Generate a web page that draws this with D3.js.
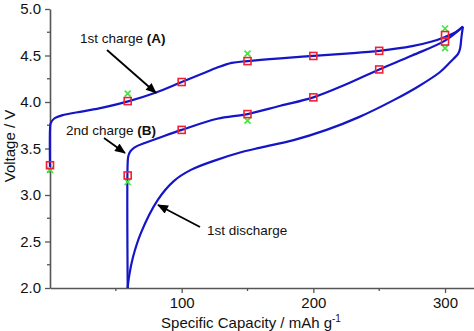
<!DOCTYPE html>
<html lang="en">
    <head>
        <meta charset="utf-8">
        <title>D3: charge / discharge curves</title>
        <script type="text/javascript" src="https://cdn.jsdelivr.net/npm/d3@7"></script>
        <style type="text/css">
        body { margin: 0; background: #fff; }
        text { font-family: "Liberation Sans", Arial, sans-serif; }
        </style>
    </head>
    <body>
        <script type="text/javascript">

            //Width and height
            var w = 474;
            var h = 331;

            //Curves, [capacity, voltage]
            var charge1 = [[0, 3.30], [0, 3.70], [0.5, 3.77], [3, 3.82], [10, 3.86], [25, 3.90], [40, 3.94],
                [60, 4.01], [80, 4.10], [100, 4.215], [115, 4.30], [127, 4.37], [138, 4.42], [150, 4.44],
                [175, 4.47], [200, 4.495], [225, 4.52], [250, 4.55], [275, 4.60], [290, 4.65], [300, 4.70],
                [308, 4.75], [313.6, 4.81]];
            var discharge1 = [[313.6, 4.81], [312.5, 4.70], [311.5, 4.58], [310, 4.52], [304, 4.43], [296, 4.32],
                [280, 4.17], [261, 4.02], [235, 3.84], [210, 3.70], [185, 3.59], [160, 3.51], [145, 3.46],
                [125, 3.37], [107, 3.27], [94, 3.15], [82, 2.95], [69, 2.59], [63, 2.33], [60, 2.12], [59, 2.0]];
            var charge2 = [[59, 2.0], [59, 3.35], [59.5, 3.42], [61, 3.47], [64, 3.51], [72, 3.56], [82, 3.61],
                [100, 3.70], [127, 3.82], [150, 3.87], [175, 3.96], [200, 4.05], [225, 4.19], [250, 4.35],
                [275, 4.50], [300, 4.66], [313.6, 4.81]];

            //Markers
            var squares = [[0, 3.32], [59, 3.21], [59, 4.01], [100, 4.215], [150, 4.44], [200, 4.495], [250, 4.55],
                [300, 4.72], [100, 3.70], [150, 3.87], [200, 4.05], [250, 4.35], [300, 4.65]];
            var crosses = [[0, 3.27], [59, 4.09], [59, 3.14], [150, 4.52], [150, 3.80], [300, 4.79], [300, 4.58]];

            //Ticks
            var xTicks = [100, 200, 300];
            var xMinor = [50, 150, 250];
            var yTicks = [2.0, 2.5, 3.0, 3.5, 4.0, 4.5, 5.0];
            var yMinor = [2.25, 2.75, 3.25, 3.75, 4.25, 4.75];

            var xScale = d3.scaleLinear()
                           .domain([0, 322])
                           .range([50, 474]);

            var yScale = d3.scaleLinear()
                           .domain([2, 5])
                           .range([288, 9]);

            var svg = d3.select("body")
                        .append("svg")
                        .attr("width", w)
                        .attr("height", h);

            var axisColor = "#555";

            //x axis
            var xAxis = svg.append("g")
                .attr("transform", "translate(0,288)")
                .call(d3.axisBottom(xScale).tickValues(xTicks).tickSize(5).tickSizeOuter(0)
                        .tickFormat(d3.format("d")).tickPadding(4));
            xAxis.append("g").selectAll("line")
                .data(xMinor)
                .enter()
                .append("line")
                .attr("x1", function(d) { return xScale(d); })
                .attr("x2", function(d) { return xScale(d); })
                .attr("y1", 0)
                .attr("y2", 3);

            //y axis
            var yAxis = svg.append("g")
                .attr("transform", "translate(50,0)")
                .call(d3.axisLeft(yScale).tickValues(yTicks).tickSize(5).tickSizeOuter(0)
                        .tickFormat(d3.format(".1f")).tickPadding(4));
            yAxis.append("g").selectAll("line")
                .data(yMinor)
                .enter()
                .append("line")
                .attr("x1", 0)
                .attr("x2", -3)
                .attr("y1", function(d) { return yScale(d); })
                .attr("y2", function(d) { return yScale(d); });

            svg.selectAll(".domain").attr("stroke", axisColor).attr("stroke-width", 1.6);
            svg.selectAll(".tick line").attr("stroke", axisColor).attr("stroke-width", 1.3);
            xAxis.selectAll("g > line").attr("stroke", axisColor).attr("stroke-width", 1.3);
            yAxis.selectAll("g > line").attr("stroke", axisColor).attr("stroke-width", 1.3);
            svg.selectAll(".tick text")
               .attr("font-size", "15px")
               .attr("font-family", "Liberation Sans, Arial, sans-serif")
               .attr("fill", "#111");

            //Axis titles
            svg.append("text")
               .attr("x", 251)
               .attr("y", 328)
               .attr("text-anchor", "middle")
               .attr("font-size", "15px")
               .attr("fill", "#111")
               .text("Specific Capacity / mAh g")
               .append("tspan")
               .attr("dy", -6)
               .attr("font-size", "10px")
               .text("-1");

            svg.append("text")
               .attr("transform", "translate(15,146) rotate(-90)")
               .attr("text-anchor", "middle")
               .attr("font-size", "15px")
               .attr("fill", "#111")
               .text("Voltage / V");

            //Curves
            var line = d3.line()
                .x(function(d) { return xScale(d[0]); })
                .y(function(d) { return yScale(d[1]); })
                .curve(d3.curveCatmullRom.alpha(0.5));

            svg.selectAll(".curve")
               .data([charge1, discharge1, charge2])
               .enter()
               .append("path")
               .attr("class", "curve")
               .attr("d", line)
               .attr("fill", "none")
               .attr("stroke", "#1515c8")
               .attr("stroke-width", 2.2)
               .attr("stroke-linejoin", "round");

            //Green crosses
            svg.selectAll(".cross")
               .data(crosses)
               .enter()
               .append("path")
               .attr("class", "cross")
               .attr("transform", function(d) {
                   return "translate(" + xScale(d[0]) + "," + yScale(d[1]) + ")";
               })
               .attr("d", "M-3,-3L3,3M-3,3L3,-3")
               .attr("stroke", "#3ee83e")
               .attr("stroke-width", 1.6);

            //Red squares
            svg.selectAll(".sq")
               .data(squares)
               .enter()
               .append("rect")
               .attr("class", "sq")
               .attr("x", function(d) { return xScale(d[0]) - 3.5; })
               .attr("y", function(d) { return yScale(d[1]) - 3.5; })
               .attr("width", 7)
               .attr("height", 7)
               .attr("fill", "none")
               .attr("stroke", "#ee2233")
               .attr("stroke-width", 1.6);

            //Annotations
            svg.append("defs")
               .append("marker")
               .attr("id", "head")
               .attr("viewBox", "0 0 12 10")
               .attr("refX", 11)
               .attr("refY", 5)
               .attr("markerWidth", 6.5)
               .attr("markerHeight", 5)
               .attr("markerUnits", "strokeWidth")
               .attr("orient", "auto")
               .append("path")
               .attr("d", "M0,0L12,5L0,10z")
               .attr("fill", "#000");

            var notes = [
                {text: "1st charge ", bold: "(A)", x: 80, y: 43, from: [107, 50], to: [156, 93]},
                {text: "2nd charge ", bold: "(B)", x: 66, y: 135, from: [104, 138], to: [125, 153]},
                {text: "1st discharge", bold: "", x: 207, y: 235, from: [200, 227], to: [158, 205]}
            ];

            var note = svg.selectAll(".note")
                .data(notes)
                .enter()
                .append("g")
                .attr("class", "note");

            note.append("text")
                .attr("x", function(d) { return d.x; })
                .attr("y", function(d) { return d.y; })
                .attr("font-size", "13.5px")
                .attr("fill", "#111")
                .text(function(d) { return d.text; })
                .append("tspan")
                .attr("font-weight", "bold")
                .text(function(d) { return d.bold; });

            note.append("line")
                .attr("x1", function(d) { return d.from[0]; })
                .attr("y1", function(d) { return d.from[1]; })
                .attr("x2", function(d) { return d.to[0]; })
                .attr("y2", function(d) { return d.to[1]; })
                .attr("stroke", "#000")
                .attr("stroke-width", 1.8)
                .attr("marker-end", "url(#head)");

        </script>
    </body>
</html>
